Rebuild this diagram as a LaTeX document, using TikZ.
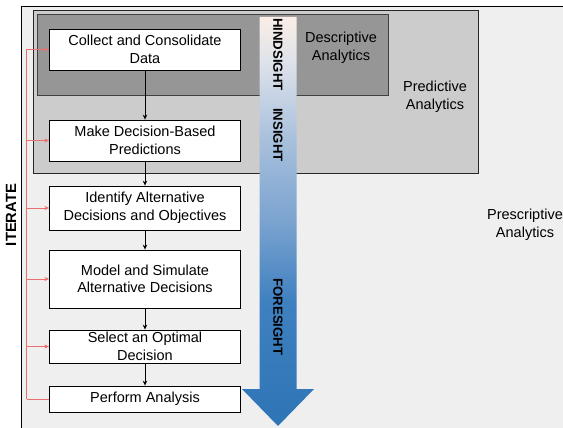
\documentclass[tikz,border=0pt]{standalone}
\usepackage{fontspec}
\setmainfont{Liberation Sans}
\usetikzlibrary{arrows.meta}
\definecolor{bgc}{HTML}{EFEFEF}
\definecolor{predc}{HTML}{CCCCCC}
\definecolor{descc}{HTML}{969696}
\definecolor{redl}{HTML}{E8706F}
\definecolor{sA}{HTML}{FBEEE6}
\definecolor{sB}{HTML}{DFE3EA}
\definecolor{sC}{HTML}{A8C0DC}
\definecolor{sD}{HTML}{7AA3CF}
\definecolor{sE}{HTML}{3F80C0}
\definecolor{sF}{HTML}{2E75B6}
\pgfdeclareverticalshading{bigarrowshade}{100bp}{color(0bp)=(sF); color(25bp)=(sF); color(40.2bp)=(sE); color(50bp)=(sD); color(60bp)=(sC); color(69.7bp)=(sB); color(75bp)=(sA); color(100bp)=(sA)}
\tikzset{
  stepbox/.style={draw=black, fill=white, line width=0.8pt, minimum width=190.5pt, inner sep=0pt, align=center, font=\fontsize{14.5}{17.5}\selectfont},
  flowarrow/.style={-{Stealth[length=5pt,width=4.5pt]}, line width=0.7pt},
  iterarrow/.style={draw=redl, line width=0.9pt, -{Stealth[length=5pt,width=4pt]}},
  regionlabel/.style={align=center, font=\fontsize{14.5}{17.5}\selectfont},
  arrowlabel/.style={font=\fontsize{13.2}{15}\selectfont\bfseries, inner sep=0pt}
}
\begin{document}
\begin{tikzpicture}[x=1pt,y=-1pt]
\useasboundingbox (0,0) rectangle (563,428);
\clip (0,0) rectangle (563,428);
\fill[white] (0,0) rectangle (563,428);
% outer prescriptive frame
\draw[fill=bgc, line width=0.9pt] (21,6) rectangle (580,445);
% predictive
\draw[fill=predc, draw=black!85, line width=0.8pt] (33,10) rectangle (478,173);
% descriptive
\draw[fill=descc, draw=black!75, line width=0.8pt] (37,14) rectangle (388,95);

% region labels
\node[regionlabel] (desc) at (341,48) {Descriptive\\Analytics};
\node[regionlabel] (pred) at (435,97) {Predictive\\Analytics};
\node[regionlabel] (presc) at (525,225) {Prescriptive\\Analytics};

% big arrow
\path[shading=bigarrowshade] (259.5,17) -- (296.5,17) -- (296.5,389) -- (314,389) -- (278,426) -- (242,389) -- (259.5,389) -- cycle;
\node[arrowlabel, rotate=-90] (hind) at (278,54.5) {HINDSIGHT};
\node[arrowlabel, rotate=-90] (ins) at (278,135) {INSIGHT};
\node[arrowlabel, rotate=-90] (fore) at (278,317) {FORESIGHT};

% step boxes
\node[stepbox, minimum height=41pt] (b1) at (145,49.5) {Collect and Consolidate\\Data};
\node[stepbox, minimum height=41pt] (b2) at (145,140.5) {Make Decision-Based\\Predictions};
\node[stepbox, minimum height=44pt] (b3) at (145,208) {Identify Alternative\\Decisions and Objectives};
\node[stepbox, minimum height=58pt] (b4) at (145,279) {Model and Simulate\\Alternative Decisions};
\node[stepbox, minimum height=33pt] (b5) at (145,346.5) {Select an Optimal\\Decision};
\node[stepbox, minimum height=26pt] (b6) at (145,399) {Perform Analysis};

\draw[flowarrow] (b1) -- (b2);
\draw[flowarrow] (b2) -- (b3);
\draw[flowarrow] (b3) -- (b4);
\draw[flowarrow] (b4) -- (b5);
\draw[flowarrow] (b5) -- (b6);

% iterate loop
\coordinate (rtop) at (26.7,49.5);
\coordinate (rbot) at (26.7,399);
\draw[draw=redl, line width=0.9pt] (rbot) -- (rtop);
\draw[draw=redl, line width=0.9pt] (rbot) -- (b6.west);
\draw[iterarrow] (rtop) -- (b1.west);
\draw[iterarrow] (rtop |- b2.west) -- (b2.west);
\draw[iterarrow] (rtop |- b3.west) -- (b3.west);
\draw[iterarrow] (rtop |- b4.west) -- (b4.west);
\draw[iterarrow] (rtop |- b5.west) -- (b5.west);

\node[font=\fontsize{14.8}{17}\selectfont\bfseries, rotate=90, inner sep=0pt] (iter) at (11,215) {ITERATE};
\end{tikzpicture}
\end{document}
